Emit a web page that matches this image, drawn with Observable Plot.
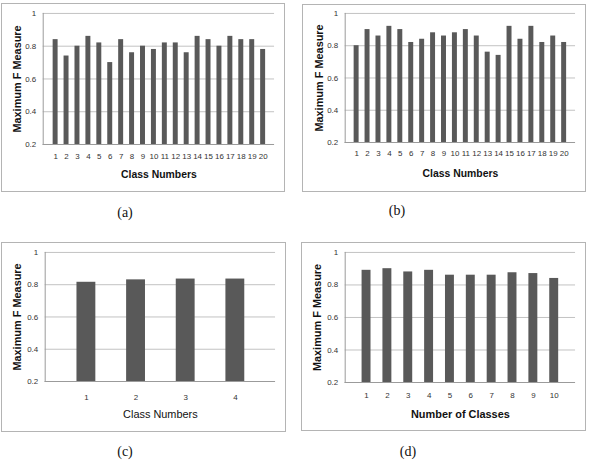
<!DOCTYPE html>
<html><head><meta charset="utf-8">
<script src="https://cdn.jsdelivr.net/npm/d3@7"></script>
<script src="https://cdn.jsdelivr.net/npm/@observablehq/plot@0.6"></script>
<style>
body{margin:0;background:#fff;}
#root{position:relative;width:589px;height:470px;overflow:hidden;}
.panel{position:absolute;border:1px solid #b4b4b4;box-sizing:border-box;}
.panel svg{position:absolute;left:-1px;top:-1px;overflow:visible;}
.cap{position:absolute;font-family:"Liberation Serif",serif;font-size:14px;color:#111;transform:translate(-50%,-50%);white-space:nowrap;}
</style></head><body><div id="root"></div>
<script>
// ---- data ----
const classes20 = ["1","2","3","4","5","6","7","8","9","10","11","12","13","14","15","16","17","18","19","20"];
const classes4 = ["1","2","3","4"];
const classes10 = ["1","2","3","4","5","6","7","8","9","10"];
const valuesA = [0.84,0.74,0.80,0.86,0.82,0.70,0.84,0.76,0.80,0.78,0.82,0.82,0.76,0.86,0.84,0.80,0.86,0.84,0.84,0.78];
const valuesB = [0.80,0.90,0.86,0.92,0.90,0.82,0.84,0.88,0.86,0.88,0.90,0.86,0.76,0.74,0.92,0.84,0.92,0.82,0.86,0.82];
const valuesC = [0.815,0.83,0.835,0.835];
const valuesD = [0.89,0.90,0.88,0.89,0.86,0.86,0.86,0.875,0.87,0.84];
const yTicks = [0.2,0.4,0.6,0.8,1];
const yLabel = "Maximum F Measure";
const xLabelA = "Class Numbers";
const xLabelD = "Number of Classes";
const captions = ["(a)","(b)","(c)","(d)"];

const root = document.getElementById("root");
const barColor = "#595959";

function panel(cfg){
  const div = document.createElement("div");
  div.className = "panel";
  Object.assign(div.style,{left:cfg.x+"px",top:cfg.y+"px",width:cfg.w+"px",height:cfg.h+"px"});
  const data = cfg.cats.map((c,i)=>({c, v: cfg.vals[i]}));
  const chart = Plot.plot({
    width: cfg.w, height: cfg.h,
    marginLeft: cfg.mL, marginRight: cfg.mR, marginTop: cfg.mT, marginBottom: cfg.mB,
    style: {fontFamily: "'Liberation Sans', Arial, sans-serif", fontSize: "8px", color: "#333", background: "transparent"},
    x: {domain: cfg.cats, padding: cfg.pad, label: null},
    y: {domain: [0.2, 1], label: null},
    marks: [
      Plot.gridY(yTicks, {stroke: "#c2c2c2", strokeOpacity: 1}),
      Plot.barY(data, {x: "c", y1: 0.2, y2: "v", fill: barColor}),
      Plot.ruleY([0.2], {stroke: "#9a9a9a"}),
      Plot.frame({anchor: "left", stroke: "#9a9a9a"}),
      Plot.axisY(yTicks, {tickSize: 0, tickPadding: 7, tickFormat: d => d === 1 ? "1" : d.toFixed(1), fill: "#333",
        label: yLabel, labelAnchor: "center", labelOffset: cfg.yLO, labelArrow: "none"}),
      Plot.axisX({tickSize: 0, tickPadding: cfg.tp, fill: "#333", label: cfg.xLabel, labelAnchor: "center", labelOffset: cfg.xLO, labelArrow: "none"})
    ]
  });
  chart.querySelectorAll('g[aria-label="y-axis label"] text').forEach(t=>{
    t.style.fontSize = "11px"; t.style.fontWeight = "bold"; t.style.fill = "#111";
  });
  chart.querySelectorAll('g[aria-label="x-axis label"] text').forEach(t=>{
    t.style.fontSize = cfg.xFs; t.style.fontWeight = cfg.xNormal ? "normal" : "bold"; t.style.fill = "#111";
  });
  div.appendChild(chart);
  root.appendChild(div);
}

panel({x:1,y:3,w:284,h:189,mL:42,mR:9,mT:10,mB:47,cats:classes20,vals:valuesA,pad:0.55,xLabel:xLabelA,yLO:30,xLO:34,tp:9,xFs:"10.5px"});
panel({x:302,y:4,w:284,h:188,mL:43,mR:9,mT:9,mB:49,cats:classes20,vals:valuesB,pad:0.58,xLabel:xLabelA,yLO:30,xLO:35,tp:8,xFs:"10.5px"});
panel({x:1,y:242,w:285,h:190,mL:44,mR:9,mT:10,mB:50,cats:classes4,vals:valuesC,pad:0.62,xLabel:xLabelA,yLO:32,xLO:37,tp:13,xNormal:true,xFs:"11px"});
panel({x:301,y:242,w:285,h:189,mL:44,mR:9,mT:10,mB:48,cats:classes10,vals:valuesD,pad:0.59,xLabel:xLabelD,yLO:32,xLO:36,tp:10,xFs:"11px"});

const capPos = [[125,213],[397,211],[125,452],[408,452]];
captions.forEach((t,i)=>{
  const d = document.createElement("div");
  d.className = "cap"; d.textContent = t;
  d.style.left = capPos[i][0]+"px"; d.style.top = capPos[i][1]+"px";
  root.appendChild(d);
});
</script>
</body></html>
